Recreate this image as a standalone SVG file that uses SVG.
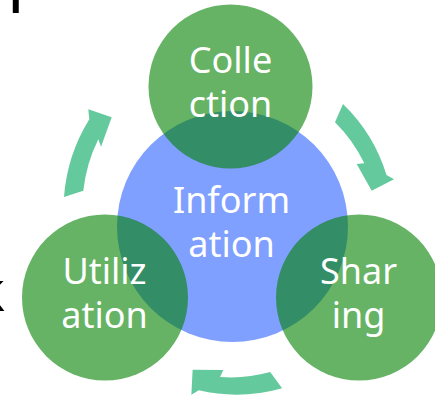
<svg xmlns="http://www.w3.org/2000/svg" width="435" height="398" viewBox="0 0 435 398">
<style>
.lbl{font-family:"Noto Sans","DejaVu Sans",sans-serif;font-size:36px;fill:#ffffff;text-anchor:middle}
.bg{font-family:"Noto Sans","DejaVu Sans",sans-serif;font-size:56px;fill:#000000}
.g{fill:#008000;fill-opacity:0.6}
.arr{fill:#64C99C}
</style>
<rect width="435" height="398" fill="#ffffff"/>
<text class="bg" x="7" y="-3" style="font-size:68px">p</text>
<text class="bg" x="5" y="311" text-anchor="end">k</text>
<g id="information">
<circle cx="232.5" cy="226.5" r="115.5" fill="#80A0FF"/>
</g>
<g id="collection">
<circle class="g" cx="230.5" cy="86.5" r="82"/>
<text class="lbl" x="230.5" y="73">Colle</text>
<text class="lbl" x="230.5" y="117">ction</text>
</g>
<g id="utilization">
<circle class="g" cx="105" cy="297.5" r="83"/>
<text class="lbl" x="104.5" y="284">Utiliz</text>
<text class="lbl" x="104.5" y="327.5">ation</text>
</g>
<g id="sharing">
<circle class="g" cx="359" cy="297.5" r="83"/>
<text class="lbl" x="358.5" y="284">Shar</text>
<text class="lbl" x="358.5" y="327.5">ing</text>
</g>
<g id="info-label">
<text class="lbl" x="231.5" y="213">Inform</text>
<text class="lbl" x="231.5" y="256.5">ation</text>
</g>
<g id="connectors">
<path id="arrow1" class="arr" d="M343,104 A167,167 0 0 1 386.5,175 L394,179.3 L371.7,190.7 L356.7,164 L364.3,163.3 A149,149 0 0 0 335,122.3 Z"/>
<path id="arrow2" class="arr" transform="rotate(120 230.5 228.5)" d="M343,104 A167,167 0 0 1 386.5,175 L394,179.3 L371.7,190.7 L356.7,164 L364.3,163.3 A149,149 0 0 0 335,122.3 Z"/>
<path id="arrow3" class="arr" d="M64,197 A172,172 0 0 1 89.3,119.3 L88.3,109.3 L111.7,117.3 L101,146.7 L98.3,139.3 A154,154 0 0 0 83.3,190.7 Z"/>
</g>
</svg>
